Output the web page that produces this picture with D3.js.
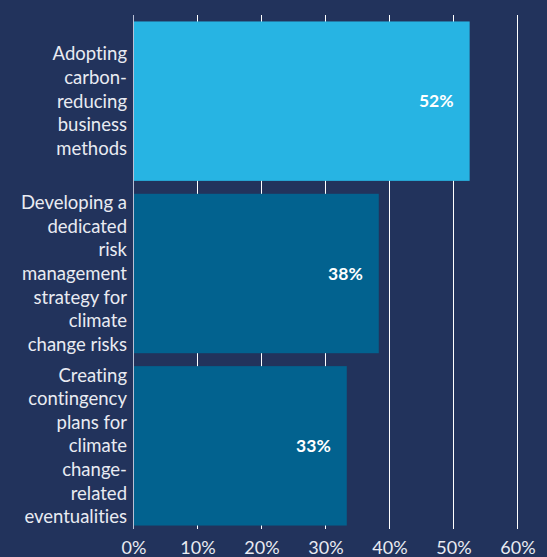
<!DOCTYPE html>
<meta charset="utf-8">
<style>
  body { margin: 0; background: #22335c; }
  svg { display: block; }
  text { font-variant-ligatures: none; }
  .lab { font-family: Lato, sans-serif; font-size: 18.5px; fill: #e9ebf2; }
  .val { font-family: Lato, sans-serif; font-size: 17.5px; font-weight: bold; fill: #fff; }
  .tick text { font-family: Lato, sans-serif; font-size: 18px; fill: #e9ebf2; }
</style>
<body>
<svg id="chart" width="547" height="557"></svg>
<script src="https://cdn.jsdelivr.net/npm/d3@7"></script>
<script>
  // data
  var categories = ["adopt", "develop", "create"];
  var labelLines = [
    ["Adopting", "carbon-", "reducing", "business", "methods"],
    ["Developing a", "dedicated", "risk", "management", "strategy for", "climate", "change risks"],
    ["Creating", "contingency", "plans for", "climate", "change-", "related", "eventualities"]
  ];
  var values = [52.6, 38.4, 33.4];
  var valueLabels = ["52%", "38%", "33%"];
  var barColors = ["#27b4e3", "#02628f", "#02628f"];
  var tickValues = [0, 10, 20, 30, 40, 50, 60];

  var svg = d3.select("#chart");

  var x = d3.scaleLinear().domain([0, 60]).range([133, 517]);
  var y = d3.scaleBand().domain(categories).range([15, 532])
    .paddingInner(0.075).paddingOuter(0.0375);

  // gridlines
  svg.append("g")
    .selectAll("line")
    .data(tickValues)
    .enter().append("line")
    .attr("x1", function(d) { return x(d) + 0.5; })
    .attr("x2", function(d) { return x(d) + 0.5; })
    .attr("y1", 15)
    .attr("y2", 529)
    .attr("stroke", function(d) { return d === 0 ? "#b9c0d4" : "#fff"; })
    .attr("stroke-width", 1);

  // bars
  svg.append("g")
    .selectAll("rect")
    .data(categories)
    .enter().append("rect")
    .attr("x", x(0) + 1)
    .attr("y", function(d) { return y(d); })
    .attr("width", function(d, i) { return x(values[i]) - x(0) - 1; })
    .attr("height", y.bandwidth())
    .attr("fill", function(d, i) { return barColors[i]; });

  // value labels
  svg.append("g")
    .selectAll("text")
    .data(categories)
    .enter().append("text")
    .attr("class", "val")
    .attr("x", function(d, i) { return x(values[i]) - 16; })
    .attr("y", function(d) { return y(d) + y.bandwidth() / 2; })
    .attr("dy", "0.35em")
    .attr("text-anchor", "end")
    .text(function(d, i) { return valueLabels[i]; });

  // category labels
  var lh = 23.6;
  var lab = svg.append("g")
    .selectAll("text")
    .data(categories)
    .enter().append("text")
    .attr("class", "lab")
    .attr("text-anchor", "end");

  lab.each(function(d, i) {
    var lines = labelLines[i];
    var cy = y(d) + y.bandwidth() / 2;
    var top = cy - (lines.length - 1) * lh / 2;
    d3.select(this).selectAll("tspan")
      .data(lines)
      .enter().append("tspan")
      .attr("x", 127)
      .attr("y", function(t, j) { return top + j * lh; })
      .attr("dy", "0.35em")
      .text(function(t) { return t; });
  });

  // x axis
  var axis = d3.axisBottom(x)
    .tickValues(tickValues)
    .tickFormat(function(d) { return d + "%"; })
    .tickSize(0)
    .tickPadding(0);

  svg.append("g")
    .attr("transform", "translate(0.5,541)")
    .call(axis)
    .call(function(g) { g.select(".domain").remove(); });
</script>
</body>
